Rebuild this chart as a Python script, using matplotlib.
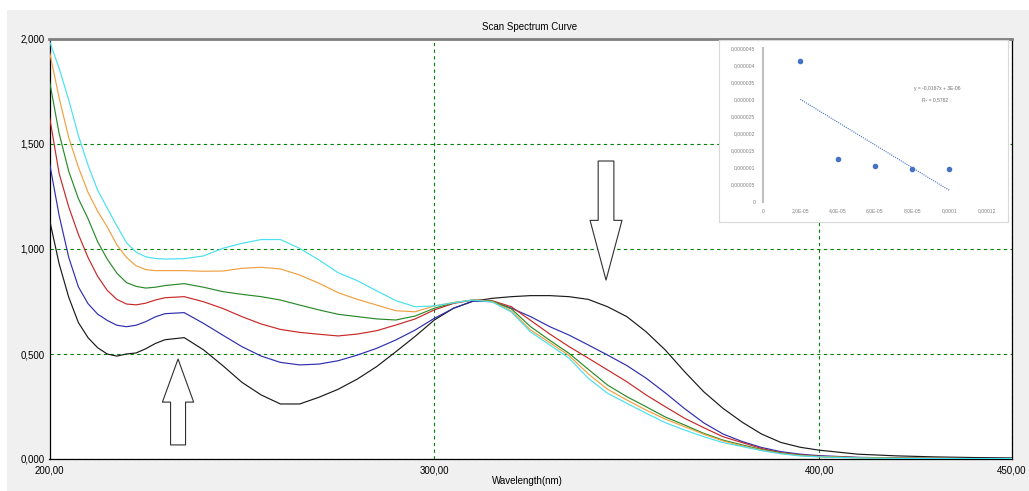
import matplotlib
matplotlib.use('Agg')
import matplotlib.pyplot as plt
import numpy as np
from matplotlib.patches import Rectangle

# ---------------- data ----------------
wavelength = [200, 202.5, 205, 207.5, 210, 212.5, 215, 217.5, 220, 222.5, 225, 227.5, 230, 235, 240, 245,
              250, 255, 260, 265, 270, 275, 280, 285, 290, 295, 300, 305, 310, 315, 320, 325,
              330, 335, 340, 345, 350, 355, 360, 365, 370, 375, 380, 385, 390, 395, 400, 410,
              420, 430, 440, 450]

abs_black = [1.14, 0.93, 0.77, 0.65, 0.578, 0.53, 0.50, 0.49, 0.50, 0.505, 0.525, 0.55, 0.568, 0.578, 0.52, 0.445,
             0.365, 0.305, 0.262, 0.262, 0.294, 0.332, 0.381, 0.44, 0.511, 0.584, 0.662, 0.718,
             0.751, 0.765, 0.773, 0.778, 0.778, 0.773, 0.76, 0.725, 0.678, 0.606, 0.519, 0.416,
             0.32, 0.241, 0.175, 0.119, 0.079, 0.056, 0.042, 0.023, 0.015, 0.01, 0.007, 0.005]
abs_blue = [1.41, 1.16, 0.96, 0.82, 0.74, 0.69, 0.66, 0.637, 0.63, 0.637, 0.654, 0.677, 0.692, 0.697, 0.646, 0.59,
            0.535, 0.49, 0.46, 0.448, 0.452, 0.468, 0.495, 0.527, 0.567, 0.614, 0.67, 0.718, 0.752,
            0.749, 0.718, 0.678, 0.63, 0.59, 0.543, 0.495, 0.445, 0.385, 0.315, 0.24, 0.172, 0.119,
            0.083, 0.055, 0.035, 0.023, 0.016, 0.008, 0.005, 0.003, 0.002, 0.002]
abs_red = [1.63, 1.36, 1.2, 1.07, 0.96, 0.87, 0.803, 0.76, 0.738, 0.734, 0.742, 0.757, 0.768, 0.773, 0.749, 0.717,
           0.678, 0.643, 0.617, 0.603, 0.594, 0.586, 0.595, 0.611, 0.638, 0.667, 0.71, 0.741, 0.757,
           0.754, 0.725, 0.66, 0.595, 0.535, 0.48, 0.424, 0.368, 0.305, 0.249, 0.194, 0.149, 0.106,
           0.078, 0.05, 0.03, 0.02, 0.013, 0.007, 0.004, 0.003, 0.002, 0.002]
abs_green = [1.8, 1.55, 1.37, 1.24, 1.145, 1.035, 0.952, 0.885, 0.84, 0.822, 0.814, 0.818, 0.826, 0.835, 0.818, 0.797,
             0.784, 0.773, 0.757, 0.733, 0.71, 0.689, 0.678, 0.667, 0.662, 0.681, 0.718, 0.744, 0.757,
             0.752, 0.715, 0.63, 0.565, 0.503, 0.427, 0.352, 0.297, 0.249, 0.2, 0.162, 0.122, 0.09,
             0.067, 0.045, 0.028, 0.018, 0.012, 0.006, 0.004, 0.003, 0.002, 0.002]
abs_orange = [1.94, 1.72, 1.53, 1.39, 1.27, 1.18, 1.105, 1.02, 0.96, 0.92, 0.902, 0.897, 0.897, 0.897, 0.894, 0.895,
              0.908, 0.913, 0.905, 0.876, 0.837, 0.792, 0.76, 0.733, 0.706, 0.701, 0.729, 0.745, 0.757,
              0.75, 0.705, 0.614, 0.554, 0.492, 0.405, 0.332, 0.281, 0.233, 0.19, 0.154, 0.118, 0.086,
              0.062, 0.042, 0.026, 0.016, 0.011, 0.006, 0.004, 0.003, 0.002, 0.002]
abs_cyan = [1.99, 1.86, 1.71, 1.54, 1.4, 1.28, 1.195, 1.11, 1.03, 0.985, 0.963, 0.955, 0.952, 0.954, 0.967, 1.003,
            1.027, 1.045, 1.045, 1.003, 0.948, 0.887, 0.849, 0.801, 0.754, 0.725, 0.729, 0.744, 0.757,
            0.748, 0.7, 0.605, 0.543, 0.48, 0.384, 0.313, 0.265, 0.218, 0.173, 0.138, 0.106, 0.078,
            0.059, 0.04, 0.025, 0.015, 0.01, 0.005, 0.003, 0.002, 0.002, 0.002]

series = [abs_black, abs_blue, abs_red, abs_green, abs_orange, abs_cyan]
series_colors = ['#1a1a1a', '#2e2eb0', '#c82828', '#2a8a2a', '#f0a040', '#48e0f0']

x_ticks = [200, 300, 400, 450]
x_ticklabels = ['200,00', '300,00', '400,00', '450,00']
y_ticks = [0, 0.5, 1.0, 1.5, 2.0]
y_ticklabels = ['0,000', '0,500', '1,000', '1,500', '2,000']

# arrows (annotation anchors: tail, tip)
arrow_up_tail = (233.4, 0.067)
arrow_up_tip = (233.4, 0.476)
arrow_down_tail = (344.6, 1.419)
arrow_down_tip = (344.6, 0.852)

# inset data
inset_x = [2e-5, 4e-5, 6e-5, 8e-5, 1e-4]
inset_y = [4.14e-6, 1.25e-6, 1.05e-6, 0.95e-6, 0.95e-6]
inset_xticks = [0, 2e-5, 4e-5, 6e-5, 8e-5, 1e-4, 1.2e-4]
inset_xticklabels = ['0', '2,0E-05', '4,0E-05', '6,0E-05', '8,0E-05', '0,0001', '0,00012']
inset_yticks = [0, 5e-7, 1e-6, 1.5e-6, 2e-6, 2.5e-6, 3e-6, 3.5e-6, 4e-6, 4.5e-6]
inset_yticklabels = ['0', '0,0000005', '0,000001', '0,0000015', '0,000002', '0,0000025',
                     '0,000003', '0,0000035', '0,000004', '0,0000045']
inset_eq = 'y = -0,0167x + 3E-06'
inset_r2 = 'R² = 0,5762'

# ---------------- figure ----------------
W, H = 1029, 491
plt.rcParams['font.family'] = ['Liberation Sans', 'DejaVu Sans']
fig = plt.figure(figsize=(W / 100, H / 100), dpi=100)
fig.patch.set_facecolor('white')
fig.add_artist(Rectangle((7 / W, 0), 1, (H - 10) / H, transform=fig.transFigure,
                         facecolor='#f0f0f0', edgecolor='none', zorder=-10))


def fpos(x0, y0, x1, y1):
    return [x0 / W, 1 - y1 / H, (x1 - x0) / W, (y1 - y0) / H]


ax = fig.add_axes(fpos(49.5, 39, 1011.7, 459))
ax.set_facecolor('white')
for vals, col in zip(series, series_colors):
    ax.plot(wavelength, vals, color=col, lw=0.85, zorder=3)

ax.set_xlim(200, 450)
ax.set_ylim(0, 2)
ax.set_xticks(x_ticks)
ax.set_xticklabels(x_ticklabels)
ax.set_yticks(y_ticks)
ax.set_yticklabels(y_ticklabels)
ax.tick_params(length=0, labelsize=7, colors='#000000')
ax.tick_params(axis='y', pad=3.5)
ax.tick_params(axis='x', pad=5)
ax.grid(True, color='#008000', linestyle=(0, (3, 3)), lw=0.8, zorder=1)
for s in ['left', 'bottom', 'right']:
    ax.spines[s].set_color('#000000')
    ax.spines[s].set_linewidth(0.9)
ax.spines['top'].set_color('#7f7f7f')
ax.spines['top'].set_linewidth(2)

arrow_kw_up = dict(arrowstyle='simple,head_length=31,head_width=22.5,tail_width=10.8',
                   fc='white', ec='#303030', lw=0.8, shrinkA=0, shrinkB=0, mutation_scale=1)
arrow_kw_down = dict(arrowstyle='simple,head_length=43,head_width=23,tail_width=11.3',
                     fc='white', ec='#303030', lw=0.8, shrinkA=0, shrinkB=0, mutation_scale=1)
ax.annotate('', xy=arrow_up_tip, xytext=arrow_up_tail, arrowprops=arrow_kw_up, zorder=4)
ax.annotate('', xy=arrow_down_tip, xytext=arrow_down_tail, arrowprops=arrow_kw_down, zorder=4)

fig.text(530 / W, 1 - 27 / H, 'Scan Spectrum Curve', ha='center', va='center', fontsize=7)
fig.text(527 / W, 1 - 481 / H, 'Wavelength(nm)', ha='center', va='center', fontsize=7)

# ---------------- inset ----------------
box = fig.add_axes(fpos(719, 40, 1008, 222))
box.set_facecolor('white')
box.set_xticks([])
box.set_yticks([])
for s in box.spines.values():
    s.set_color('#d9d9d9')
    s.set_linewidth(0.8)
box.set_zorder(5)

ins = fig.add_axes(fpos(763, 48.3, 986.7, 201.7))
ins.set_zorder(6)
ins.patch.set_alpha(0)
ins.scatter(inset_x, inset_y, s=9, color='#4472c4', zorder=3)
coef = np.polyfit(inset_x, inset_y, 1)
fit_x = np.array([min(inset_x), max(inset_x)])
ins.plot(fit_x, np.polyval(coef, fit_x), color='#4472c4', lw=0.8, linestyle=(0, (1, 1)))
ins.set_xlim(0, 1.2e-4)
ins.set_ylim(0, 4.5e-6)
ins.set_xticks(inset_xticks)
ins.set_xticklabels(inset_xticklabels)
ins.set_yticks(inset_yticks)
ins.set_yticklabels(inset_yticklabels)
ins.tick_params(length=0, labelsize=3.6, colors='#808080')
ins.tick_params(axis='x', pad=5)
ins.tick_params(axis='y', pad=5.5)
for s in ['top', 'right', 'bottom']:
    ins.spines[s].set_visible(False)
ins.spines['left'].set_color('#bfbfbf')
ins.spines['left'].set_linewidth(1.5)
ins.text(0.778, 0.735, inset_eq, transform=ins.transAxes, ha='center', va='center',
         fontsize=3.6, color='#707070')
ins.text(0.769, 0.663, inset_r2, transform=ins.transAxes, ha='center', va='center',
         fontsize=3.6, color='#707070')

fig.savefig('out.png', dpi=100)
